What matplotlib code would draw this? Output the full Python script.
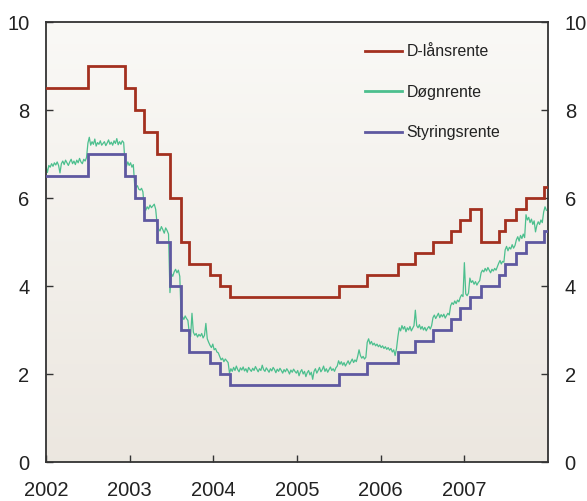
import numpy as np
import pandas as pd
import matplotlib
matplotlib.use("Agg")
import matplotlib.pyplot as plt
import matplotlib.dates as mdates

plt.rcParams['font.family'] = ['Liberation Sans', 'DejaVu Sans']

# Policy-rate change dates (last entry = end of series)
change_dates = ["2002-01-01", "2002-07-03", "2002-12-12", "2003-01-23", "2003-03-06",
                "2003-05-01", "2003-06-26", "2003-08-14", "2003-09-18", "2003-12-18",
                "2004-01-29", "2004-03-12", "2005-07-01", "2005-11-03", "2006-03-17",
                "2006-06-01", "2006-08-17", "2006-11-02", "2006-12-14", "2007-01-25",
                "2007-03-15", "2007-05-31", "2007-06-28", "2007-08-16", "2007-09-27",
                "2007-12-13", "2007-12-31"]
styringsrente = [6.5, 7.0, 6.5, 6.0, 5.5, 5.0, 4.0, 3.0, 2.5, 2.25, 2.0, 1.75, 2.0, 2.25,
                 2.5, 2.75, 3.0, 3.25, 3.5, 3.75, 4.0, 4.25, 4.5, 4.75, 5.0, 5.25, 5.25]
d_laansrente = [8.5, 9.0, 8.5, 8.0, 7.5, 7.0, 6.0, 5.0, 4.5, 4.25, 4.0, 3.75, 4.0, 4.25,
                4.5, 4.75, 5.0, 5.25, 5.5, 5.75, 5.0, 5.25, 5.5, 5.75, 6.0, 6.25, 6.25]

# Døgnrente readings, one list per policy-rate period (spread over that period)
dogn_periods = [
    [6.72, 6.58, 6.74, 6.70, 6.78, 6.72, 6.80, 6.75, 6.82, 6.74, 6.57, 6.78, 6.84, 6.76, 6.86,
     6.80, 6.74, 6.82, 6.88, 6.78, 6.84, 6.76, 6.86, 6.80, 6.90, 6.82, 6.78, 6.88, 6.84, 6.92],
    [7.25, 7.38, 7.20, 7.28, 7.22, 7.34, 7.18, 7.26, 7.22, 7.30, 7.20, 7.24, 7.28, 7.19, 7.25,
     7.32, 7.22, 7.27, 7.20, 7.30, 7.24, 7.35, 7.21, 7.28, 7.22, 7.30, 7.26],
    [6.78, 6.72, 6.82, 6.74, 6.80, 6.70, 6.76],
    [6.30, 6.24, 6.28, 6.20, 6.18, 6.22, 6.14],
    [5.76, 5.72, 5.80, 5.75, 5.84, 5.78, 5.82, 5.86, 5.74],
    [5.40, 5.30, 5.25, 5.35, 5.28, 5.20, 5.32, 5.26, 5.18],
    [3.85, 4.28, 4.22, 4.32, 4.38, 4.30, 4.36, 4.22],
    [3.28, 3.30, 3.24, 3.32, 3.26, 3.22],
    [2.95, 2.85, 3.38, 2.95, 2.88, 2.92, 2.84, 2.90, 2.86, 2.92, 2.82, 2.88, 3.15, 2.80, 2.72],
    [2.65, 2.60, 2.68, 2.55, 2.58, 2.50, 2.48],
    [2.40, 2.32, 2.36, 2.28, 2.34, 2.30, 2.26],
    [2.02, 2.12, 2.06, 2.15, 2.08, 2.18, 2.10, 2.05, 2.14, 2.09, 2.16, 2.07, 2.12, 2.04, 2.15,
     2.10, 2.06, 2.13, 2.08, 2.17, 2.11, 2.05, 2.12, 2.08, 2.20, 2.10, 2.06, 2.14, 2.09, 2.04,
     2.12, 2.07, 2.15, 2.10, 2.03, 2.11, 2.06, 2.13, 2.08, 2.02, 2.10, 2.05, 2.12, 2.07, 2.00,
     2.09, 2.04, 2.11, 2.06, 2.02,
     2.08, 1.96, 2.05, 2.10, 2.00, 2.06, 1.94, 2.03, 2.08, 1.98, 2.04, 1.88, 2.06, 2.12, 2.02,
     2.08, 2.15, 2.05, 2.10, 2.18, 2.06, 2.12, 2.04, 2.10, 2.16, 2.08, 2.12, 2.06, 2.14, 2.18],
    [2.30, 2.22, 2.28, 2.20, 2.26, 2.18, 2.24, 2.30, 2.22, 2.28, 2.34, 2.26, 2.32, 2.28, 2.40,
     2.55, 2.42, 2.36, 2.40, 2.34, 2.38],
    [2.72, 2.80, 2.68, 2.74, 2.66, 2.70, 2.64, 2.68, 2.62, 2.66, 2.60, 2.64, 2.58, 2.62, 2.56,
     2.60, 2.54, 2.58, 2.50, 2.55, 2.42, 2.58],
    [2.85, 3.05, 2.98, 3.10, 3.02, 3.08, 2.96, 3.05, 3.00, 3.08, 2.98, 3.04, 3.10],
    [3.45, 3.10, 3.05, 3.12, 3.02, 3.08, 3.00, 3.06, 2.98, 3.04, 3.08, 3.02, 3.10],
    [3.28, 3.34, 3.26, 3.32, 3.38, 3.28, 3.35, 3.30, 3.36, 3.27, 3.33, 3.38, 3.34],
    [3.55, 3.62, 3.58, 3.66, 3.60, 3.68, 3.64],
    [3.74, 3.80, 3.76, 4.53, 3.82, 3.78, 3.84],
    [4.18, 4.08, 4.12, 4.04, 4.10, 4.02, 4.08, 4.12],
    [4.30, 4.36, 4.32, 4.40, 4.34, 4.42, 4.36, 4.30, 4.38, 4.34, 4.40, 4.36, 4.44],
    [4.52, 4.58, 4.50, 4.56, 4.54],
    [4.82, 4.90, 4.80, 4.88, 4.84, 4.94, 4.86, 4.92],
    [5.05, 5.12, 5.02, 5.15, 5.08, 5.18, 5.10],
    [5.62, 5.50, 5.56, 5.44, 5.52, 5.40, 5.48, 5.23, 5.38, 5.46, 5.40, 5.50, 5.44],
    [5.68, 5.80, 5.72],
]

labels = ["D-lånsrente", "Døgnrente", "Styringsrente"]
colors = ["#a3301f", "#4cbf8e", "#5e58a0"]
year_ticks = ["2002", "2003", "2004", "2005", "2006", "2007"]
y_ticks = [0, 2, 4, 6, 8, 10]

dates = mdates.date2num(pd.to_datetime(change_dates))

# build døgnrente positions across each period
g_x, g_y = [], []
for i, vals in enumerate(dogn_periods):
    s, e = dates[i], dates[i + 1]
    n = len(vals)
    xs = s + (e - s) * np.arange(n) / n
    g_x.extend(xs)
    g_y.extend(vals)

fig = plt.figure(figsize=(5.87, 5.01), dpi=100)
ax = fig.add_axes([46 / 587, 39 / 501, 502 / 587, 440 / 501])

xmin = mdates.date2num(pd.Timestamp("2002-01-01"))
xmax = mdates.date2num(pd.Timestamp("2008-01-01"))

# gradient background
grad = np.linspace(0, 1, 256).reshape(-1, 1)
top = np.array([0.980, 0.976, 0.965])
bot = np.array([0.925, 0.906, 0.878])
img = top[None, None, :] * (1 - grad[:, :, None]) + bot[None, None, :] * grad[:, :, None]
ax.imshow(img, extent=[xmin, xmax, 0, 10], aspect='auto', zorder=0, origin='upper')

ax.plot(dates, d_laansrente, drawstyle='steps-post', color=colors[0], lw=2.0,
        label=labels[0], zorder=3, solid_joinstyle='miter')
ax.plot(g_x, g_y, color=colors[1], lw=0.9, label=labels[1], zorder=2)
ax.plot(dates, styringsrente, drawstyle='steps-post', color=colors[2], lw=2.0,
        label=labels[2], zorder=3, solid_joinstyle='miter')

ax.set_xlim(xmin, xmax)
ax.set_ylim(0, 10)
ax.set_xticks(mdates.date2num(pd.to_datetime([y + "-01-01" for y in year_ticks])))
ax.set_xticklabels(year_ticks)
ax.set_yticks(y_ticks)
ax.set_yticklabels([str(v) for v in y_ticks])

for sp in ax.spines.values():
    sp.set_color("#333333")
    sp.set_linewidth(1.3)

ax.tick_params(axis='both', direction='in', length=5, width=1.0, color="#333333",
               labelsize=14.5, labelcolor="#222222")
ax.tick_params(axis='x', pad=14)
ax.tick_params(axis='y', left=True, right=True, labelleft=True, labelright=True, pad=12)

leg = ax.legend(loc='upper left', bbox_to_anchor=(0.636, 0.949), frameon=False,
                fontsize=11.4, handlelength=2.3, handletextpad=0.3, labelspacing=1.6,
                borderpad=0, borderaxespad=0)
for t in leg.get_texts():
    t.set_color("#222222")
for l in leg.get_lines():
    l.set_linewidth(2.0)

fig.savefig("out.png", dpi=100)
